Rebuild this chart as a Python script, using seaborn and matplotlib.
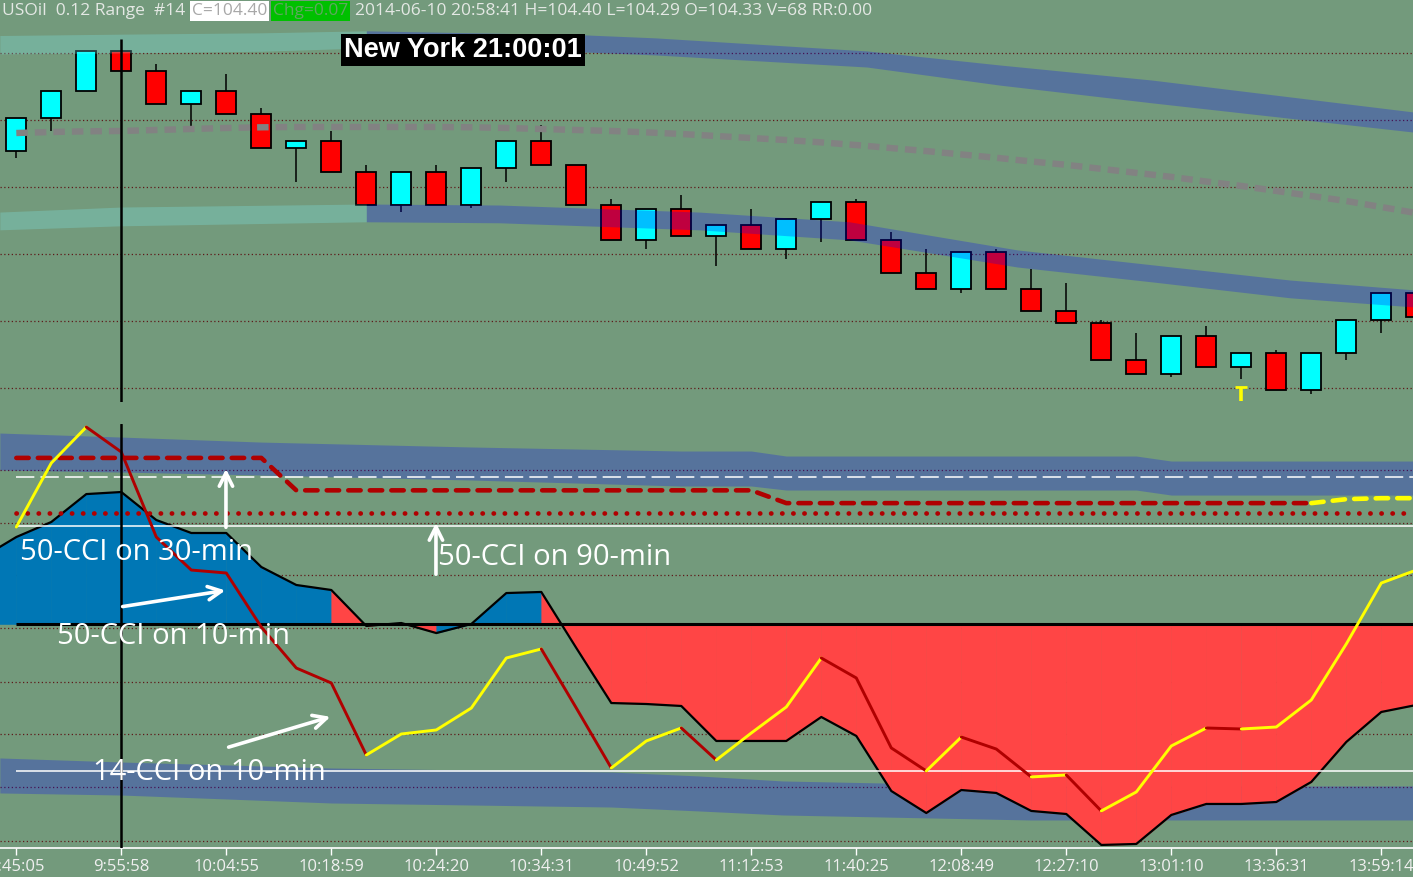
import matplotlib
matplotlib.use("Agg")
import matplotlib.pyplot as plt
import numpy as np
import pandas as pd
import seaborn as sns

# ---------------- price panel: USOil 0.12 range bars ----------------
bar_open = [104.807, 104.905, 104.986, 105.105, 105.045, 104.947, 104.986, 104.917, 104.816, 104.836,
            104.744, 104.645, 104.744, 104.645, 104.756, 104.836, 104.765, 104.645, 104.543, 104.633,
            104.553, 104.586, 104.514, 104.603, 104.654, 104.543, 104.442, 104.394, 104.505, 104.394,
            104.331, 104.293, 104.182, 104.143, 104.254, 104.161, 104.204, 104.093, 104.204, 104.302,
            104.383]
bar_close = [104.905, 104.986, 105.105, 105.045, 104.947, 104.986, 104.917, 104.816, 104.836, 104.744,
             104.645, 104.744, 104.645, 104.756, 104.836, 104.765, 104.645, 104.543, 104.633, 104.553,
             104.586, 104.514, 104.603, 104.654, 104.543, 104.442, 104.394, 104.505, 104.394, 104.331,
             104.293, 104.182, 104.143, 104.254, 104.161, 104.204, 104.093, 104.204, 104.302, 104.383,
             104.313]
bar_high = [104.905, 104.986, 105.105, 105.105, 105.067, 104.986, 105.037, 104.936, 104.836, 104.866,
            104.766, 104.744, 104.766, 104.756, 104.836, 104.884, 104.765, 104.663, 104.633, 104.676,
            104.586, 104.634, 104.603, 104.654, 104.663, 104.566, 104.515, 104.505, 104.515, 104.455,
            104.413, 104.302, 104.264, 104.254, 104.285, 104.204, 104.213, 104.204, 104.302, 104.383,
            104.383]
bar_low = [104.787, 104.868, 104.986, 105.045, 104.947, 104.880, 104.917, 104.816, 104.716, 104.744,
           104.645, 104.626, 104.645, 104.636, 104.716, 104.765, 104.645, 104.543, 104.516, 104.553,
           104.465, 104.514, 104.486, 104.537, 104.543, 104.442, 104.394, 104.384, 104.394, 104.331,
           104.293, 104.182, 104.143, 104.134, 104.161, 104.128, 104.093, 104.083, 104.184, 104.265,
           104.313]

# slow moving average (grey dashed)
price_ma = [104.861, 104.864, 104.866, 104.867, 104.870, 104.873, 104.876, 104.878, 104.879, 104.879,
            104.879, 104.879, 104.879, 104.878, 104.876, 104.873, 104.870, 104.867, 104.863, 104.858,
            104.852, 104.846, 104.840, 104.833, 104.825, 104.816, 104.807, 104.797, 104.787, 104.776,
            104.766, 104.754, 104.742, 104.730, 104.716, 104.703, 104.688, 104.673, 104.658, 104.640,
            104.622]

# price channels (bar position, upper edge, lower edge)
upper_band_x = [-0.47, 3, 7, 10, 16.2, 18.25, 24.3, 28.1, 32.45, 39.9]
upper_band_hi = [105.152, 105.156, 105.160, 105.166, 105.154, 105.145, 105.106, 105.064, 105.019, 104.924]
upper_band_lo = [105.097, 105.100, 105.105, 105.115, 105.103, 105.094, 105.058, 105.004, 104.951, 104.864]
lower_band_x = [-0.47, 3, 10, 13.8, 19.5, 23.8, 28.6, 32.5, 36.4, 39.9]
lower_band_hi = [104.625, 104.640, 104.649, 104.646, 104.625, 104.596, 104.512, 104.467, 104.422, 104.393]
lower_band_lo = [104.572, 104.584, 104.596, 104.593, 104.572, 104.542, 104.461, 104.416, 104.369, 104.342]
band_switch_bar = 10

price_grid = [104.1, 104.3, 104.5, 104.7, 104.9, 105.1]
signal_bar = 35
signal_range = (104.061, 104.103)
cursor_bar = 3
cursor_top = 105.143

# ---------------- CCI panel ----------------
cci50_10_x = list(range(-1, 41))
cci50_10 = [67.1, 88.5, 103.8, 132.2, 134.3, 105.8, 92.6, 92.6, 58.0, 39.7, 34.6, -2.0, 1.0, -9.2,
            0.0, 31.5, 32.6, -24.4, -80.4, -81.4, -83.4, -119.0, -119.0, -119.0, -94.6, -113.9,
            -169.9, -192.3, -168.9, -171.9, -190.2, -193.3, -224.8, -223.8, -194.3, -183.1, -183.1,
            -181.1, -160.7, -120.0, -89.5, -82.4]
cci50_10_state = "BBBBBBBBBBRRRBBBRRRRRRRRRRRRRRRRRRRRRRRRR"

cci_x = list(range(0, 41))
cci14_10 = [98.7, 163.8, 200.4, 175.0, 88.5, 54.9, 51.9, -3.1, -44.8, -60.0, -133.3, -111.9, -107.8,
            -85.5, -34.6, -25.4, -85.5, -146.5, -119.0, -105.8, -138.4, -110.9, -84.4, -34.6, -54.9,
            -126.1, -149.5, -115.0, -127.2, -155.6, -153.6, -190.2, -170.9, -124.1, -105.8, -106.8,
            -104.8, -77.3, -20.3, 41.7, 54.9]
cci50_30 = [169, 169, 169, 169, 169, 169, 169, 169, 136, 136, 136, 136, 136, 136, 136, 136, 136, 136,
            136, 136, 136, 136, 123, 123, 123, 123, 123, 123, 123, 123, 123, 123, 123, 123, 123, 123,
            123, 123, 127, 128, 128]
cci50_90 = [113, 113, 113, 113, 113, 113, 113, 113, 113, 113, 113, 113, 113, 113, 113, 113, 113, 113,
            113, 113, 113, 113, 113, 113, 113, 113, 113, 113, 113, 113, 113, 113, 113, 113, 113, 113,
            113, 113, 113, 113, 113]

cci_upper_x = [-0.47, 3, 7, 13, 19, 21, 22, 32, 33, 39.9]
cci_upper_hi = [194.3, 190.2, 185.1, 180.1, 176.0, 176.0, 170.9, 170.9, 165.8, 165.8]
cci_upper_lo = [156.7, 154.6, 151.6, 146.5, 140.4, 140.4, 136.3, 136.3, 131.2, 131.2]
cci_lower_x = [-0.47, 3, 6, 9, 17, 19.5, 21.9, 29, 39.9]
cci_lower_hi = [-136.3, -140.4, -143.4, -146.5, -150.6, -154.6, -159.7, -164.8, -164.8]
cci_lower_lo = [-171.9, -174.0, -178.0, -182.1, -186.2, -190.2, -194.3, -199.4, -199.4]

cci_grid = [157, 103, 50, -4, -59, -112, -166, -221]
level_solid = [100, -150]
level_dashed = [150]

time_ticks = list(range(0, 41, 3))
time_labels = ["9:45:05", "9:55:58", "10:04:55", "10:18:59", "10:24:20", "10:34:31", "10:49:52",
               "11:12:53", "11:40:25", "12:08:49", "12:27:10", "13:01:10", "13:36:31", "13:59:14"]

BG = "#739A7C"
GRID = "#5E1A1A"
DARK_RED = "#B00000"
YELLOW = "#FFFF00"

sns.set_theme(style="dark", rc={"axes.facecolor": BG, "figure.facecolor": BG})
plt.rcParams["font.family"] = ["Open Sans", "DejaVu Sans"]

W, H = 1413, 877
fig = plt.figure(figsize=(W / 100, H / 100), dpi=100)
ax = fig.add_axes([0, (H - 402) / H, 1, 402 / H])
ax2 = fig.add_axes([0, (H - 848) / H, 1, 424 / H])
xlim = (-0.466, 39.906)

# ---- price panel ----
ax.set_xlim(*xlim)
ax.set_ylim(104.058, 105.258)
for lvl in price_grid:
    ax.axhline(lvl, color=GRID, ls=(0, (1, 2)), lw=0.9, zorder=1)

candles = pd.DataFrame({"bar": cci_x, "open": bar_open, "close": bar_close,
                        "high": bar_high, "low": bar_low})
candles["up"] = candles["close"] > candles["open"]
ax.vlines(candles["bar"], candles["low"], candles["high"], color="black", lw=1.1, zorder=2)
ax.bar(candles["bar"], (candles["close"] - candles["open"]).abs(),
       bottom=candles[["open", "close"]].min(axis=1), width=0.57,
       color=np.where(candles["up"], "#00FFFF", "#FF0000"), edgecolor="black", lw=1.3, zorder=3)

ax.plot(cci_x, price_ma, color="#828282", linewidth=4.6, ls=(0, (1.8, 1.1)), zorder=4)

for bx, hi, lo in [(upper_band_x, upper_band_hi, upper_band_lo),
                   (lower_band_x, lower_band_hi, lower_band_lo)]:
    bx, hi, lo = np.array(bx), np.array(hi), np.array(lo)
    left = bx <= band_switch_bar
    right = bx >= band_switch_bar
    ax.fill_between(bx[left], hi[left], lo[left], color="#7FF5FB", alpha=0.25, lw=0, zorder=5)
    ax.fill_between(bx[right], hi[right], lo[right], color="#0000FF", alpha=0.25, lw=0, zorder=5)

ax.vlines(cursor_bar, 104.058, cursor_top, color="black", lw=1.8, zorder=6)
ax.vlines(signal_bar, *signal_range, color=YELLOW, lw=2.6, zorder=6)
ax.plot([signal_bar], [signal_range[1]], marker="_", ms=9, mew=2, color=YELLOW, zorder=6)
ax.axis("off")

# ---- CCI panel ----
ax2.set_xlim(*xlim)
ax2.set_ylim(-227.9, 203.5)
for lvl in cci_grid:
    ax2.axhline(lvl, color=GRID, ls=(0, (1, 2)), lw=0.9, zorder=1)
ax2.fill_between(cci_upper_x, cci_upper_hi, cci_upper_lo, color="#0000FF", alpha=0.25, lw=0, zorder=2)
ax2.fill_between(cci_lower_x, cci_lower_hi, cci_lower_lo, color="#0000FF", alpha=0.25, lw=0, zorder=2)

# 50-CCI on 10-min: filled to zero, blue / red
for i, state in enumerate(cci50_10_state):
    ax2.fill_between(cci50_10_x[i:i + 2], cci50_10[i:i + 2], 0,
                     color="#0077B5" if state == "B" else "#FF4545", lw=0.4,
                     edgecolor="#0077B5" if state == "B" else "#FF4545", zorder=3)
sns.lineplot(x=cci50_10_x, y=cci50_10, ax=ax2, color="black", linewidth=1.6, zorder=4)
ax2.hlines(0, 0, 41, color="black", lw=2.2, zorder=4)

for lvl in level_solid:
    ax2.hlines(lvl, 0, 41, color="white", lw=1.1, zorder=5)
for lvl in level_dashed:
    ax2.hlines(lvl, 0, 41, color="white", lw=1.1, ls=(0, (12, 4)), zorder=5)


def colour_runs(values):
    """Split a series into runs: yellow while rising, dark red while falling."""
    cols, cur = [], DARK_RED
    for a, b in zip(values[:-1], values[1:]):
        if b > a:
            cur = YELLOW
        elif b < a:
            cur = DARK_RED
        cols.append(cur)
    runs, start = [], 0
    for i in range(1, len(cols) + 1):
        if i == len(cols) or cols[i] != cols[start]:
            runs.append((start, i, cols[start]))
            start = i
    return runs


for s, e, c in colour_runs(cci50_30):
    ax2.plot(cci_x[s:e + 1], cci50_30[s:e + 1], color=c, lw=3.3, ls=(0, (2.7, 2.0)),
             dash_capstyle="round", zorder=6)
ax2.plot(cci_x, cci50_90, color=DARK_RED, lw=3.4, ls=(0, (0.05, 2.3)),
         dash_capstyle="round", zorder=6)
for s, e, c in colour_runs(cci14_10):
    ax2.plot(cci_x[s:e + 1], cci14_10[s:e + 1], color=c, lw=2.1, zorder=7,
             solid_capstyle="round", solid_joinstyle="round")

ax2.axvline(cursor_bar, color="black", lw=1.8, zorder=8)

txt = dict(color="white", fontsize=21, va="center", ha="left", zorder=9)
ax2.text(0.11, 73, "50-CCI on 30-min", **txt)
ax2.text(12.05, 68, "50-CCI on 90-min", **txt)
ax2.text(1.16, -13, "50-CCI on 10-min", **txt)
ax2.text(2.19, -151, "14-CCI on 10-min", **txt)
arrow = dict(arrowstyle="->", color="white", lw=2.6, mutation_scale=24)
ax2.annotate("", xy=(6.05, 34.6), xytext=(2.96, 17.3), arrowprops=arrow, zorder=9)
ax2.annotate("", xy=(9.05, -93.6), xytext=(5.99, -126.1), arrowprops=arrow, zorder=9)
ax2.annotate("", xy=(5.99, 160.7), xytext=(5.99, 95.6), arrowprops=arrow, zorder=9)
ax2.annotate("", xy=(11.99, 105.8), xytext=(11.99, 47.8), arrowprops=arrow, zorder=9)

for side in ["top", "left", "right"]:
    ax2.spines[side].set_visible(False)
ax2.spines["bottom"].set_visible(True)
ax2.spines["bottom"].set_color("white")
ax2.spines["bottom"].set_linewidth(1.2)
ax2.set_yticks([])
ax2.set_xticks(time_ticks)
ax2.set_xticklabels(time_labels)
ax2.tick_params(axis="x", bottom=True, colors="white", length=5, width=1, pad=3,
                labelsize=12, labelcolor="#F0F0F0")
ax2.grid(False)

# ---- header texts ----
hy = 1 - 11 / H
fig.text(2 / W, hy, "USOil  0.12 Range  #14", color="#E4E8E4", fontsize=12.5, va="center")
fig.text(192 / W, hy, "C=104.40", color="#A8A8A8", fontsize=12.5, va="center",
         bbox=dict(facecolor="white", edgecolor="none", boxstyle="square,pad=0.12"))
fig.text(273 / W, hy, "Chg=0.07", color="#5FA85F", fontsize=12.5, va="center",
         bbox=dict(facecolor="#00C000", edgecolor="none", boxstyle="square,pad=0.12"))
fig.text(355 / W, hy, "2014-06-10 20:58:41 H=104.40 L=104.29 O=104.33 V=68 RR:0.00",
         color="#E4E8E4", fontsize=12.5, va="center")
fig.text(463 / W, 1 - 50 / H, "New York 21:00:01", color="white", fontsize=19.5,
         fontweight="bold", family=["Liberation Sans Narrow", "Liberation Sans", "DejaVu Sans"],
         ha="center", va="center",
         bbox=dict(facecolor="black", edgecolor="none", boxstyle="square,pad=0.12"))

fig.savefig("out.png", dpi=100, facecolor=BG)
